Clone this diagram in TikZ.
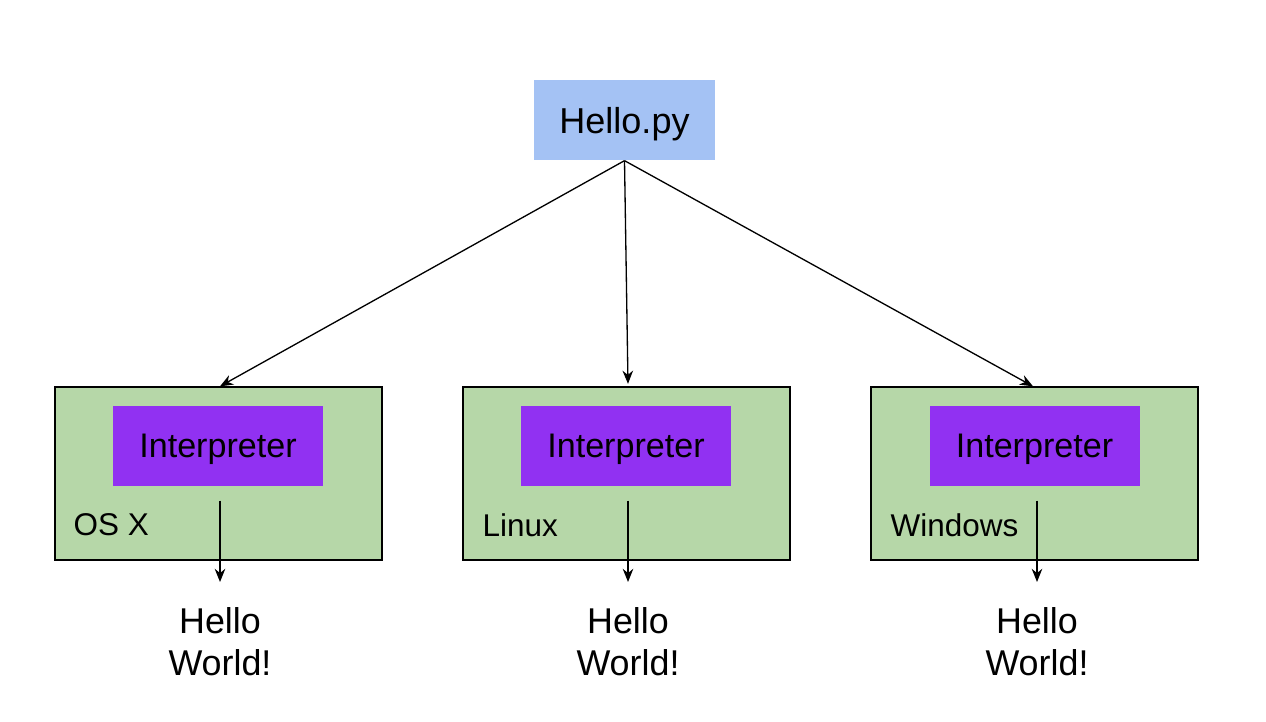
\documentclass[tikz,border=0pt]{standalone}
\usepackage[usenames,dvipsnames,svgnames,table,rgb]{xcolor}
\usepackage{fontspec}
\setmainfont{Liberation Sans}
\usepackage{tikz}
\usetikzlibrary{arrows.meta}

\definecolor{pyblue}{HTML}{A4C2F4}
\definecolor{osgreen}{HTML}{B6D7A8}
\definecolor{interpviolet}{HTML}{9131F2}

\tikzset{
	>={Stealth[length=7.5pt,width=6pt]},
	every path/.style={line width=0.75pt},
	script/.style={fill=pyblue, minimum width=3.62cm, minimum height=1.6cm, text depth=0pt, font=\fontsize{20.5}{24}\selectfont},
	osbox/.style={draw=black, fill=osgreen, minimum width=6.54cm, minimum height=3.46cm},
	interp/.style={fill=interpviolet, minimum width=4.2cm, minimum height=1.6cm, text depth=0pt, font=\fontsize{19.4}{23}\selectfont},
	osname/.style={anchor=west, inner sep=0pt, font=\fontsize{17.9}{21}\selectfont},
	output/.style={anchor=north, align=center, inner xsep=0pt, inner ysep=0.5cm, font=\fontsize{20.4}{23.8}\selectfont}
}

\begin{document}
\begin{tikzpicture}

		\useasboundingbox (0,0) rectangle (25.32cm,14.44cm) ;

		\node[script] (hello) at (12.49cm,12.04cm) {Hello.py} ;

		\node[osbox] (osx) at (4.37cm,4.97cm) {} ;
		\node[osbox] (linux) at (12.53cm,4.97cm) {} ;
		\node[osbox] (windows) at (20.69cm,4.97cm) {} ;

		\node[interp] (osx_i) at (4.36cm,5.52cm) {Interpreter} ;
		\node[interp] (linux_i) at (12.52cm,5.52cm) {Interpreter} ;
		\node[interp] (windows_i) at (20.69cm,5.52cm) {Interpreter} ;

		\node[osname] (osx_l) at (1.46cm,3.94cm) {OS X} ;
		\node[osname] (linux_l) at (9.64cm,3.94cm) {Linux} ;
		\node[osname] (windows_l) at (17.8cm,3.94cm) {Windows} ;

		\node[output] (osx_w) at (4.4cm,2.8cm) {Hello\\World!} ;
		\node[output] (linux_w) at (12.56cm,2.8cm) {Hello\\World!} ;
		\node[output] (windows_w) at (20.74cm,2.8cm) {Hello\\World!} ;

		\draw[->] (hello.south) -- ([xshift=0.03cm]osx.north) ;
		\draw[->] (hello.south) -- ([xshift=0.03cm,yshift=0.05cm]linux.north) ;
		\draw[->] (hello.south) -- ([xshift=-0.03cm]windows.north) ;

		\draw[->] ([yshift=-0.28cm]osx_i.south -| osx_w.north) -- (osx_w.north) ;
		\draw[->] ([yshift=-0.28cm]linux_i.south -| linux_w.north) -- (linux_w.north) ;
		\draw[->] ([yshift=-0.28cm]windows_i.south -| windows_w.north) -- (windows_w.north) ;
	\end{tikzpicture}
\end{document}
